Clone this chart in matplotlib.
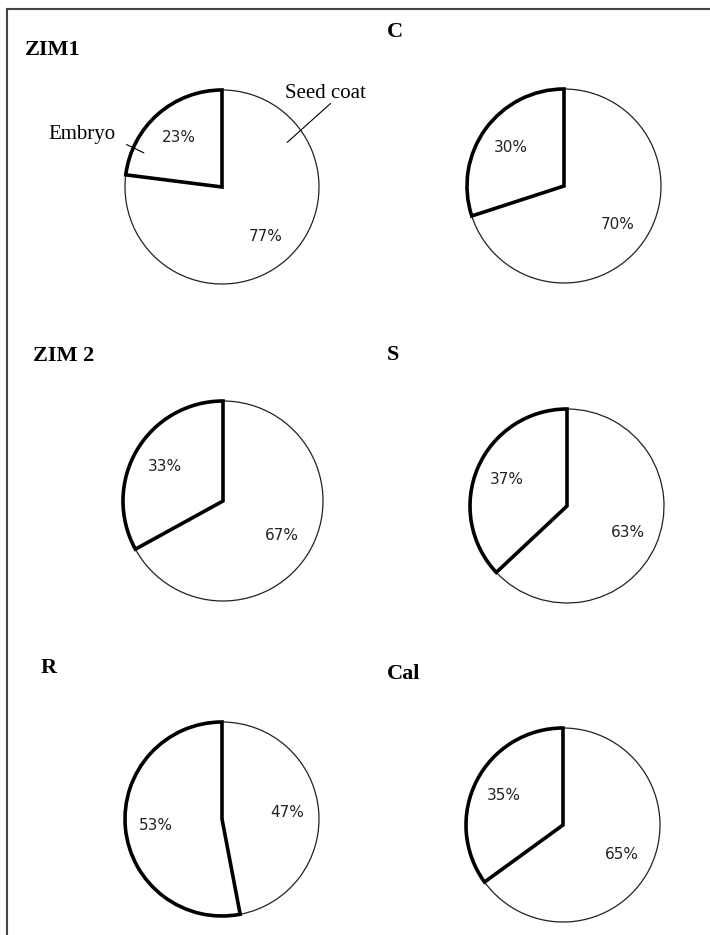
import matplotlib.pyplot as plt
from matplotlib.lines import Line2D

names = ["ZIM1", "C", "ZIM 2", "S", "R", "Cal"]
embryo = [23, 30, 33, 37, 53, 35]
seed_coat = [77, 70, 67, 63, 47, 65]

W, H = 710, 935
fig = plt.figure(figsize=(W / 100, H / 100), dpi=100)
fig.patch.set_facecolor("white")

# pie centre / radius in pixels, title anchor in pixels
pie_pos = [(222, 187, 97), (564, 186, 97), (223, 501, 100),
           (567, 506, 97), (222, 819, 97), (563, 825, 97)]
title_pos = [(25, 50), (387, 32), (33, 356), (387, 355), (41, 668), (387, 674)]

pad = 1.1
axes = []
for i, (cx, cy, r) in enumerate(pie_pos):
    s = r * pad
    ax = fig.add_axes([(cx - s) / W, 1 - (cy + s) / H, 2 * s / W, 2 * s / H])
    wedges, texts, autotexts = ax.pie(
        [embryo[i], seed_coat[i]], startangle=90, counterclock=True,
        colors=["white", "white"], autopct=lambda p: f"{round(p)}%",
        pctdistance=0.68,
        textprops=dict(fontsize=11, color="#222222", family="DejaVu Sans"))
    wedges[0].set_edgecolor("black")
    wedges[0].set_linewidth(2.6)
    wedges[0].set_zorder(3)
    wedges[1].set_edgecolor("#222222")
    wedges[1].set_linewidth(0.9)
    for w in wedges:
        w.set_clip_on(False)
        w.set_joinstyle("miter")
    ax.set_xlim(-pad, pad)
    ax.set_ylim(-pad, pad)
    ax.set_aspect("equal")
    axes.append(ax)

    tx, ty = title_pos[i]
    fig.text(tx / W, 1 - ty / H, names[i], fontsize=16, fontweight="bold",
             family="Liberation Serif", ha="left", va="center")

# leader labels on the first pie
ax0 = axes[0]
ax0.annotate("", xy=(-0.78, 0.34), xytext=(-1.01, 0.45),
             arrowprops=dict(arrowstyle="-", lw=0.8, color="black"))
ax0.annotate("", xy=(0.65, 0.44), xytext=(1.14, 0.88),
             arrowprops=dict(arrowstyle="-", lw=0.8, color="black"))
fig.text(48 / W, 1 - 135 / H, "Embryo", fontsize=15, family="Liberation Serif",
         ha="left", va="center")
fig.text(285 / W, 1 - 93 / H, "Seed coat", fontsize=15, family="Liberation Serif",
         ha="left", va="center")

# outer frame (top and left edges)
fig.add_artist(Line2D([7 / W, 1], [1 - 9 / H, 1 - 9 / H], color="#444444", lw=1.5))
fig.add_artist(Line2D([7 / W, 7 / W], [0, 1 - 9 / H], color="#444444", lw=1.5))

fig.savefig("out.png", dpi=100)
